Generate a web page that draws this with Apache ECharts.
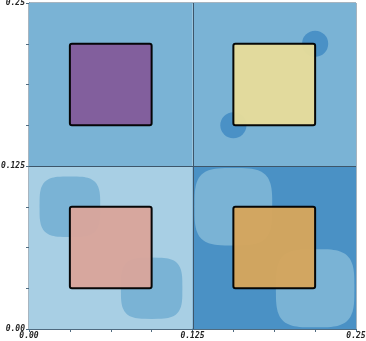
<!DOCTYPE html>
<html><head><meta charset="utf-8">
<script src="https://cdn.jsdelivr.net/npm/echarts@6/dist/echarts.min.js"></script>
<style>html,body{margin:0;padding:0;background:#fff}#c{width:366px;height:341px}</style>
</head><body><div id="c"></div>
<script>
// Quadrant cells (lower-left corner, size) and colours
const cellX0 = [0, 0.125, 0, 0.125];
const cellY0 = [0.125, 0.125, 0, 0];
const cellSize = 0.125;
const cellColors = ['#7ab3d5', '#7ab3d5', '#a8cfe4', '#4a91c5'];
// Central squares inside each cell (offset from cell corner)
const squareLo = 0.03125;
const squareHi = 0.09375;
const squareColors = ['#825c9a', '#e6dc9a', '#d9a59b', '#d5a55c'];
// Round blobs in top-right cell
const circleX = [0.21875, 0.15625];
const circleY = [0.21875, 0.15625];
const circleR = [0.0100, 0.0100];
const circleColor = '#4a91c6';
// Squircle blobs in lower cells
const blobX = [0.03125, 0.09375, 0.15625, 0.21875];
const blobY = [0.09375, 0.03125, 0.09375, 0.03125];
const blobHalf = [0.0232, 0.0235, 0.0297, 0.0300];
const blobColors = ['#7ab3d5', '#7ab3d5', '#7ab3d5', '#7ab3d5'];
// Axis tick labels
const tickValues = [0, 0.125, 0.25];
const tickLabels = ['0.00', '0.125', '0.25'];
const tickInterval = 0.03125;

const chart = echarts.init(document.getElementById('c'));
const labelFont = {fontFamily: 'DejaVu Sans Mono', fontStyle: 'italic', fontWeight: 'bold', fontSize: 8, color: '#222'};
function fmt(v) {
  const i = tickValues.findIndex(t => Math.abs(t - v) < 1e-9);
  return i >= 0 ? tickLabels[i] : '';
}
function squirclePoints(cx, cy, hx, hy, n) {
  const pts = [];
  for (let k = 0; k < 96; k++) {
    const t = k / 96 * Math.PI * 2;
    const c = Math.cos(t), s = Math.sin(t);
    pts.push([cx + hx * Math.sign(c) * Math.pow(Math.abs(c), 2 / n),
              cy + hy * Math.sign(s) * Math.pow(Math.abs(s), 2 / n)]);
  }
  return pts;
}
const cellData = cellX0.map((x, i) => [x, cellY0[i], i]);
const circleData = circleX.map((x, i) => [x, circleY[i], circleR[i]]);
const blobData = blobX.map((x, i) => [x, blobY[i], blobHalf[i], i]);
const squareData = cellX0.map((x, i) => [x, cellY0[i], i]);

chart.setOption({
  animation: false,
  grid: {left: 29, right: 10, top: 3, bottom: 12, show: true, borderColor: '#4f6b80', borderWidth: 1, containLabel: false, outerBoundsMode: 'none'},
  xAxis: {type: 'value', min: 0, max: 0.25, interval: tickInterval,
    axisLine: {show: true, onZero: false, lineStyle: {color: '#4f6b80'}},
    axisTick: {show: true, length: 3, lineStyle: {color: '#4f6b80'}},
    splitLine: {show: false},
    axisLabel: Object.assign({formatter: fmt, margin: 3, showMinLabel: true, showMaxLabel: true}, labelFont)},
  yAxis: {type: 'value', min: 0, max: 0.25, interval: tickInterval,
    axisLine: {show: true, onZero: false, lineStyle: {color: '#4f6b80'}},
    axisTick: {show: true, length: 3, lineStyle: {color: '#4f6b80'}},
    splitLine: {show: false},
    axisLabel: Object.assign({formatter: fmt, margin: 4, showMinLabel: true, showMaxLabel: true}, labelFont)},
  series: [
    {type: 'custom', data: cellData, z: 1, clip: true,
      renderItem: (p, api) => {
        const i = api.value(2);
        const a = api.coord([api.value(0), api.value(1) + cellSize]);
        const b = api.coord([api.value(0) + cellSize, api.value(1)]);
        return {type: 'rect', shape: {x: a[0], y: a[1], width: b[0] - a[0], height: b[1] - a[1]},
          style: {fill: cellColors[i], stroke: null}};
      }},
    {type: 'custom', data: circleData, z: 2,
      renderItem: (p, api) => {
        const c = api.coord([api.value(0), api.value(1)]);
        const e = api.coord([api.value(0) + api.value(2), api.value(1)]);
        return {type: 'circle', shape: {cx: c[0], cy: c[1], r: e[0] - c[0]}, style: {fill: circleColor}};
      }},
    {type: 'custom', data: blobData, z: 2,
      renderItem: (p, api) => {
        const c = api.coord([api.value(0), api.value(1)]);
        const e = api.coord([api.value(0) + api.value(2), api.value(1) + api.value(2)]);
        const pts = squirclePoints(c[0], c[1], e[0] - c[0], c[1] - e[1], 3.6);
        return {type: 'polygon', shape: {points: pts}, style: {fill: blobColors[api.value(3)]}};
      }},
    {type: 'custom', data: squareData, z: 3,
      renderItem: (p, api) => {
        const i = api.value(2);
        const a = api.coord([api.value(0) + squareLo, api.value(1) + squareHi]);
        const b = api.coord([api.value(0) + squareHi, api.value(1) + squareLo]);
        return {type: 'rect', shape: {x: a[0], y: a[1], width: b[0] - a[0], height: b[1] - a[1], r: 2},
          style: {fill: squareColors[i], opacity: 0.96, stroke: '#000', lineWidth: 2, lineJoin: 'round'}};
      }},
    {type: 'custom', data: [[0.125, 0.125]], z: 4,
      renderItem: (p, api) => {
        const c = api.coord([api.value(0), api.value(1)]);
        const lo = api.coord([0, 0]), hi = api.coord([0.25, 0.25]);
        return {type: 'group', children: [
          {type: 'line', shape: {x1: Math.round(c[0]) + 0.5, y1: hi[1], x2: Math.round(c[0]) + 0.5, y2: lo[1]}, style: {stroke: '#3d566a', lineWidth: 1}},
          {type: 'line', shape: {x1: lo[0], y1: Math.round(c[1]) + 0.5, x2: hi[0], y2: Math.round(c[1]) + 0.5}, style: {stroke: '#3d566a', lineWidth: 1}}
        ]};
      }}
  ]
});
</script></body></html>
